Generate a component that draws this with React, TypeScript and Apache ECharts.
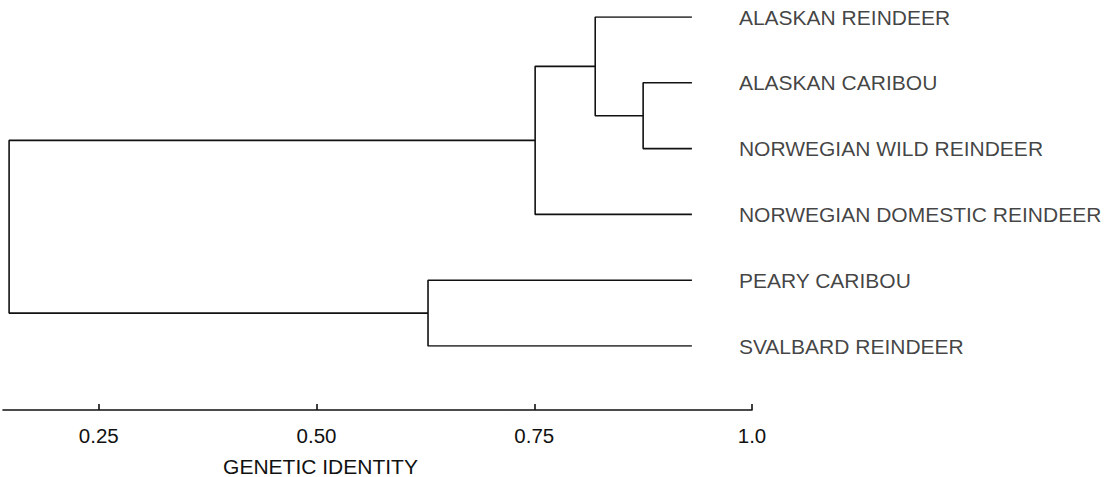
import React, { useEffect, useRef } from "react";
import * as echarts from "echarts";

// Leaves (top to bottom)
const leaves = [
  "ALASKAN REINDEER",
  "ALASKAN CARIBOU",
  "NORWEGIAN WILD REINDEER",
  "NORWEGIAN DOMESTIC REINDEER",
  "PEARY CARIBOU",
  "SVALBARD REINDEER",
];
// genetic identity at which leaf branches end
const leafTip = 0.931;
// merges: children are "L<i>" (leaf) or "M<k>" (earlier merge)
const mergeLeft = ["L1", "L0", "M1", "L4", "M2"];
const mergeRight = ["L2", "M0", "L3", "L5", "M3"];
const mergeIdentity = [0.875, 0.82, 0.751, 0.628, 0.147];

// axis ticks
const tickValues = [0.25, 0.5, 0.75, 1.0];
const tickLabels = ["0.25", "0.50", "0.75", "1.0"];
const axisTitle = "GENETIC IDENTITY";

const INK = "#111111";
const FONT = "'Liberation Sans', Arial, Helvetica, sans-serif";

export default function App() {
  const ref = useRef<HTMLDivElement>(null);

  useEffect(() => {
    if (!ref.current) return;
    const chart = echarts.init(ref.current, undefined, { renderer: "svg" });

    const pos: Record<string, [number, number]> = {};
    leaves.forEach((_, i) => {
      pos["L" + i] = [leafTip, i];
    });
    const series: any[] = [];
    mergeIdentity.forEach((h, k) => {
      const l = pos[mergeLeft[k]];
      const r = pos[mergeRight[k]];
      pos["M" + k] = [h, (l[1] + r[1]) / 2];
      series.push({
        type: "line",
        data: [
          [l[0], l[1]],
          [h, l[1]],
          [h, r[1]],
          [r[0], r[1]],
        ],
        symbol: "none",
        silent: true,
        lineStyle: { color: INK, width: 1.6 },
      });
    });
    series.push({
      type: "scatter",
      data: leaves.map((n, i) => [leafTip, i, n]),
      symbolSize: 0,
      silent: true,
      label: {
        show: true,
        position: "right",
        distance: 47,
        formatter: (p: any) => p.data[2],
        color: INK,
        fontSize: 21,
        fontFamily: FONT,
      },
    });

    chart.setOption({
      animation: false,
      backgroundColor: "#ffffff",
      grid: { left: 3, right: 367, top: 17, bottom: 131, outerBoundsMode: "none" },
      xAxis: {
        type: "value",
        min: 0.14,
        max: 1.0,
        offset: 64,
        name: axisTitle,
        nameLocation: "middle",
        nameGap: 46,
        nameTextStyle: {
          color: INK,
          fontSize: 21,
          fontFamily: FONT,
          padding: [0, 114, 0, 0],
        },
        axisLine: { show: true, onZero: false, lineStyle: { color: INK, width: 1.6 } },
        axisTick: {
          show: true,
          inside: true,
          length: 6,
          customValues: tickValues,
          lineStyle: { color: INK, width: 1.6 },
        },
        axisLabel: {
          show: true,
          customValues: tickValues,
          formatter: (v: number) => tickLabels[tickValues.indexOf(v)] ?? "",
          margin: 15,
          color: INK,
          fontSize: 20.5,
          fontFamily: FONT,
        },
        splitLine: { show: false },
      },
      yAxis: {
        type: "value",
        min: 0,
        max: 5,
        inverse: true,
        show: false,
      },
      series,
    });

    return () => chart.dispose();
  }, []);

  return (
    <div
      ref={ref}
      style={{ position: "absolute", left: 0, top: 0, width: 1119, height: 477 }}
    />
  );
}
